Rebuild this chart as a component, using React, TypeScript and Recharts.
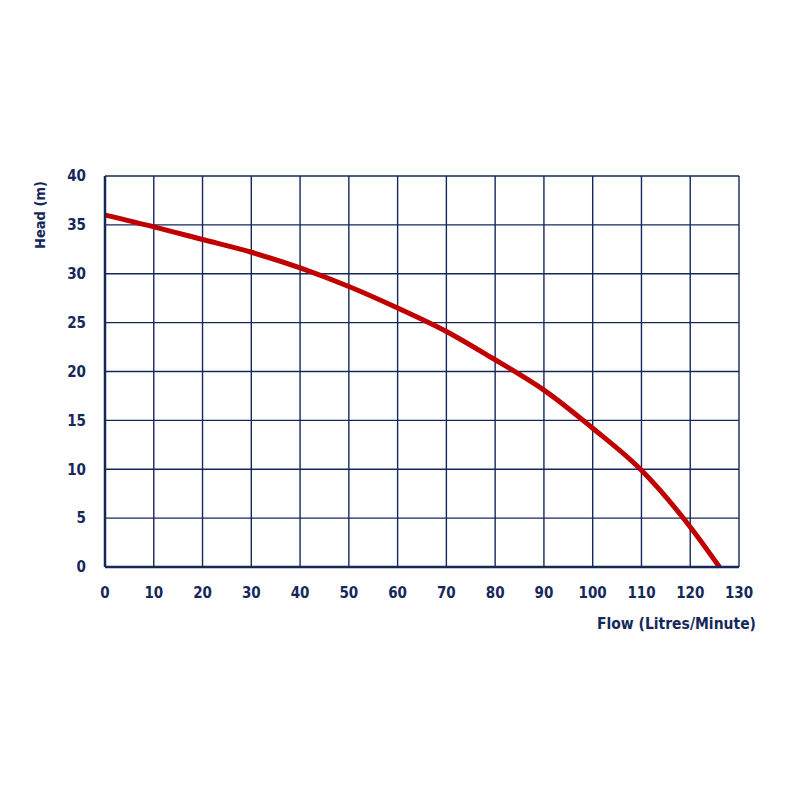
import React from "react";
import { LineChart, Line, XAxis, YAxis, CartesianGrid, Label } from "recharts";

const flow = [0, 10, 20, 30, 40, 50, 60, 70, 80, 85, 90, 100, 110, 120, 126];
const head = [36, 34.8, 33.5, 32.2, 30.6, 28.7, 26.5, 24.1, 21.2, 19.7, 18.1, 14.2, 9.9, 4.1, 0];
const xTicks = [0, 10, 20, 30, 40, 50, 60, 70, 80, 90, 100, 110, 120, 130];
const yTicks = [0, 5, 10, 15, 20, 25, 30, 35, 40];

const data = flow.map((f, i) => ({ flow: f, head: head[i] }));

const NAVY = "#14285a";
const RED = "#c00000";
const FONT = "'DejaVu Sans Condensed', 'DejaVu Sans', sans-serif";

export default function App() {
  return (
    <div style={{ width: 800, height: 800, background: "#fff" }}>
      <LineChart
        width={800}
        height={800}
        data={data}
        margin={{ top: 168, right: 69, bottom: 211, left: 37 }}
      >
        <CartesianGrid stroke={NAVY} strokeWidth={1.4} horizontal vertical />
        <XAxis
          dataKey="flow"
          type="number"
          domain={[0, 130]}
          ticks={xTicks}
          interval={0}
          height={30}
          tickLine={false}
          axisLine={{ stroke: NAVY, strokeWidth: 2.5 }}
          tick={{ fill: NAVY, fontSize: 15, fontWeight: 700, fontFamily: FONT }}
          tickMargin={14}
        >
          <Label
            content={(props: any) => {
              const vb = props.viewBox;
              return (
                <text
                  x={vb.x + vb.width + 17}
                  y={vb.y + 62}
                  textAnchor="end"
                  fill={NAVY}
                  fontSize={15.5}
                  fontWeight={700}
                  fontFamily={FONT}
                >
                  Flow (Litres/Minute)
                </text>
              );
            }}
          />
        </XAxis>
        <YAxis
          type="number"
          domain={[0, 40]}
          ticks={yTicks}
          interval={0}
          width={60}
          tickLine={false}
          axisLine={{ stroke: NAVY, strokeWidth: 2.5 }}
          tick={{ fill: NAVY, fontSize: 15, fontWeight: 700, fontFamily: FONT }}
          tickMargin={13}
        >
          <Label
            content={(props: any) => {
              const vb = props.viewBox;
              const cx = vb.x - 5;
              const cy = vb.y + 39;
              return (
                <text
                  x={cx}
                  y={cy}
                  transform={`rotate(-90 ${cx} ${cy})`}
                  textAnchor="middle"
                  dominantBaseline="central"
                  fill={NAVY}
                  fontSize={14.5}
                  fontWeight={700}
                  fontFamily={FONT}
                >
                  Head (m)
                </text>
              );
            }}
          />
        </YAxis>
        <Line
          type="monotone"
          dataKey="head"
          stroke={RED}
          strokeWidth={5}
          dot={false}
          isAnimationActive={false}
        />
      </LineChart>
    </div>
  );
}
